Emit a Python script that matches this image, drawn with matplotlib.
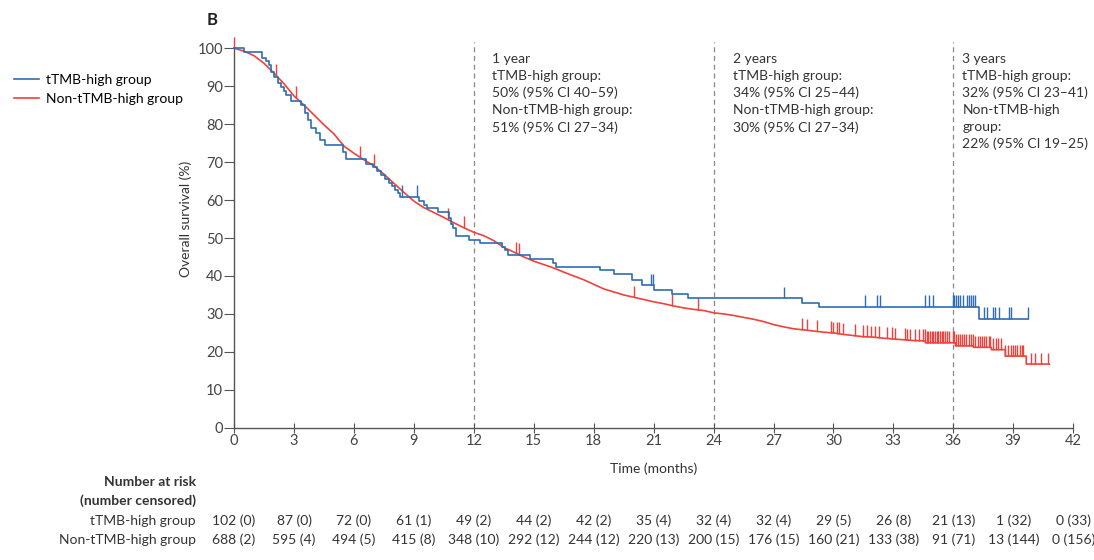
import numpy as np
import matplotlib
matplotlib.use("Agg")
import matplotlib.pyplot as plt
import matplotlib.transforms as mtransforms

plt.rcParams['font.family'] = ['Lato', 'DejaVu Sans']

# tTMB-high group: step curve (time, survival after step)
blue_t = [0, 0.5, 1.4, 1.6, 1.75, 1.85, 2.0, 2.2, 2.35, 2.5, 2.6, 2.85, 3.35, 3.55, 3.7, 3.85,
          4.1, 4.3, 4.55, 5.45, 5.6, 6.6, 6.95, 7.15, 7.35, 7.55, 7.75, 7.9, 8.05, 8.2, 8.3,
          9.25, 9.5, 9.65, 10.2, 10.75, 10.85, 10.95, 11.1, 11.75, 12.3, 13.4, 13.55, 13.7,
          14.8, 15.95, 16.1, 18.3, 19.0, 19.9, 20.4, 21.0, 21.9, 22.7, 28.4, 29.3, 37.3, 39.75]
blue_s = [100, 98.9, 97.5, 96.5, 95.5, 93.8, 92.5, 90.8, 89.8, 88.8, 87.6, 86.0, 85.0, 82.9, 81.0, 79.0,
          77.6, 75.8, 74.4, 72.6, 70.8, 69.6, 68.6, 67.6, 66.6, 65.6, 64.6, 63.6, 62.6, 61.8, 60.9,
          59.8, 58.8, 57.9, 56.9, 55.2, 53.8, 52.6, 50.5, 49.4, 48.7, 47.7, 46.8, 45.5,
          44.4, 43.4, 42.4, 41.6, 40.5, 38.9, 37.5, 36.3, 35.3, 34.2, 33.0, 31.9, 28.7, 28.7]
blue_cens = [8.4, 9.15, 20.85, 20.95, 27.5, 31.6, 32.2, 32.35, 34.6, 34.8, 35.0, 36.0, 36.05,
             36.15, 36.25, 36.35, 36.5, 36.7, 36.8, 36.9, 37.0, 37.1, 37.55, 37.7, 38.0, 38.1,
             38.3, 38.8, 38.9, 39.75]

# Non-tTMB-high group
red_t = [0, 0.5, 1.0, 1.5, 2.0, 2.5, 3.0, 3.5, 4.0, 4.5, 5.0, 5.5, 6.0, 6.5, 7.0, 7.5, 8.0, 8.5,
         9.0, 9.5, 10.0, 10.5, 11.0, 11.5, 12.0, 12.5, 13.0, 13.5, 14.0, 14.5, 15.0, 15.5, 16.0,
         16.5, 17.0, 17.5, 18.0, 18.5, 19.0, 19.5, 20.0, 20.5, 21.0, 21.5, 22.0, 22.5, 23.0, 23.5,
         24.0, 24.5, 25.0, 25.5, 26.0, 26.5, 27.0, 27.5, 28.0, 28.5, 29.0, 29.5, 30.0, 30.5, 31.0,
         31.5, 32.0, 32.5, 33.0, 33.5, 34.0, 34.6, 34.6, 36.1, 36.1, 37.0, 37.0, 37.9, 37.9,
         38.6, 38.6, 39.65, 39.65, 40.8]
red_s = [100, 99.2, 98.0, 96.0, 93.4, 90.6, 87.4, 85.0, 82.4, 79.8, 77.4, 74.2, 72.3, 70.6, 69.0,
         66.8, 64.4, 62.0, 59.7, 58.0, 56.7, 55.4, 54.0, 52.7, 51.5, 50.6, 49.3, 47.5, 46.3, 45.0,
         43.9, 43.0, 42.1, 41.0, 40.0, 39.0, 37.8, 36.6, 35.8, 35.0, 34.4, 33.8, 33.2, 32.7, 32.1,
         31.6, 31.2, 30.9, 30.3, 30.0, 29.6, 29.1, 28.6, 28.0, 27.2, 26.6, 26.1, 25.8, 25.5, 25.2,
         25.0, 24.6, 24.3, 24.0, 23.9, 23.6, 23.4, 23.2, 23.0, 22.9, 22.4, 22.4, 21.6, 21.6, 21.2,
         21.2, 20.6, 20.6, 18.9, 18.9, 16.8, 16.8]
red_cens = [0.0, 2.1, 3.1, 6.3, 7.0, 10.7, 11.5, 14.1, 14.25, 20.0, 21.9, 23.2, 28.4, 28.7, 29.2,
            29.9, 30.0, 30.2, 30.3, 30.5, 31.1, 31.5, 31.7, 31.9, 32.1, 32.3, 32.66, 32.91, 33.08,
            33.58, 33.67, 33.83, 34.08, 34.3, 34.5, 34.59, 34.67, 34.75, 34.84, 34.92, 35.0, 35.09,
            35.17, 35.25, 35.34, 35.42, 35.5, 35.59, 35.67, 35.76, 35.97, 36.04, 36.14, 36.22,
            36.31, 36.42, 36.54, 36.64, 36.76, 36.87, 36.97, 37.09, 37.21, 37.34, 37.43, 37.51,
            37.64, 37.76, 37.84, 38.01, 38.14, 38.26, 38.38, 38.6, 38.76, 38.88, 38.98, 39.1,
            39.21, 39.35, 39.43, 39.51, 39.9, 40.1, 40.4, 40.75]

# landmark annotations
marks = [12, 24, 36]
mark_text = [
    "1 year\ntTMB-high group:\n50% (95% CI 40\u201359)\nNon-tTMB-high group:\n51% (95% CI 27\u201334)",
    "2 years\ntTMB-high group:\n34% (95% CI 25\u201344)\nNon-tTMB-high group:\n30% (95% CI 27\u201334)",
    "3 years\ntTMB-high group:\n32% (95% CI 23\u201341)\nNon-tTMB-high\ngroup:\n22% (95% CI 19\u201325)",
]
mark_offset = [0.9, 0.95, 0.45]

# number at risk table
risk_times = list(range(0, 43, 3))
risk_high = ["102 (0)", "87 (0)", "72 (0)", "61 (1)", "49 (2)", "44 (2)", "42 (2)", "35 (4)",
             "32 (4)", "32 (4)", "29 (5)", "26 (8)", "21 (13)", "1 (32)", "0 (33)"]
risk_non = ["688 (2)", "595 (4)", "494 (5)", "415 (8)", "348 (10)", "292 (12)", "244 (12)",
            "220 (13)", "200 (15)", "176 (15)", "160 (21)", "133 (38)", "91 (71)", "13 (144)",
            "0 (156)"]

blue = '#2e6db0'
red = '#f0413a'
grey = '#444444'

fig = plt.figure(figsize=(10.94, 5.6), dpi=100)
ax = fig.add_axes([0.214, 0.236, 0.767, 0.678])

ax.plot(blue_t, blue_s, drawstyle='steps-post', color=blue, lw=1.2, label='tTMB-high group',
        clip_on=False, zorder=3)
ax.plot(red_t, red_s, color=red, lw=1.2, label='Non-tTMB-high group', clip_on=False, zorder=2)

# censor ticks
bt = np.array(blue_t)
bs = np.array(blue_s)
idx = np.searchsorted(bt, blue_cens, side='right') - 1
by = bs[idx]
ax.vlines(blue_cens, by, by + 3.0, color=blue, lw=1.0, clip_on=False, zorder=3)
ry = np.interp(red_cens, red_t, red_s)
ax.vlines(red_cens, ry, ry + 3.0, color=red, lw=1.0, clip_on=False, zorder=2)

for m, txt, off in zip(marks, mark_text, mark_offset):
    ax.plot([m, m], [0, 101.5], color='#888888', lw=0.9, ls=(0, (4, 3)), clip_on=False, zorder=1)
    ax.text(m + off, 98.7, txt, fontsize=10, color='#333333', va='top', ha='left',
            linespacing=1.47)

ax.set_xlim(0, 42)
ax.set_ylim(0, 100)
ax.set_xticks(range(0, 43, 3))
ax.set_yticks(range(0, 101, 10))
ax.spines['top'].set_visible(False)
ax.spines['right'].set_visible(False)
for sp in ['left', 'bottom']:
    ax.spines[sp].set_color('#555555')
    ax.spines[sp].set_linewidth(1.0)
ax.tick_params(axis='x', direction='inout', length=7, colors='#555555', labelcolor=grey,
               labelsize=10.5, pad=1)
ax.tick_params(axis='y', direction='out', length=7, colors='#555555', labelcolor=grey,
               labelsize=10.5, pad=1)
ax.set_xlabel("Time (months)", fontsize=10, color='#333333', labelpad=10)
ax.set_ylabel("Overall survival (%)", fontsize=10, color='#333333')
ax.yaxis.set_label_coords(-0.05, 0.55)

fig.text(0.189, 0.965, "B", fontsize=12, fontweight='bold', color='#222222', va='center')

fig.legend(loc='upper left', bbox_to_anchor=(0.008, 0.878), frameon=False, fontsize=10,
           handlelength=1.8, handletextpad=0.45, labelspacing=0.5, borderaxespad=0)

# number at risk
trans = mtransforms.blended_transform_factory(ax.transData, fig.transFigure)
fig.text(0.179, 1 - 482 / 560, "Number at risk", fontsize=10, fontweight='bold',
         color='#333333', ha='right', va='center')
fig.text(0.179, 1 - 501 / 560, "(number censored)", fontsize=10, fontweight='bold',
         color='#333333', ha='right', va='center')
fig.text(0.179, 1 - 521 / 560, "tTMB-high group", fontsize=10, color='#333333',
         ha='right', va='center')
fig.text(0.179, 1 - 540 / 560, "Non-tTMB-high group", fontsize=10, color='#333333',
         ha='right', va='center')
for t, a, b in zip(risk_times, risk_high, risk_non):
    ax.text(t, 1 - 521 / 560, a, transform=trans, fontsize=10, color='#333333',
            ha='center', va='center')
    ax.text(t, 1 - 540 / 560, b, transform=trans, fontsize=10, color='#333333',
            ha='center', va='center')

fig.savefig("out.png", dpi=100)
